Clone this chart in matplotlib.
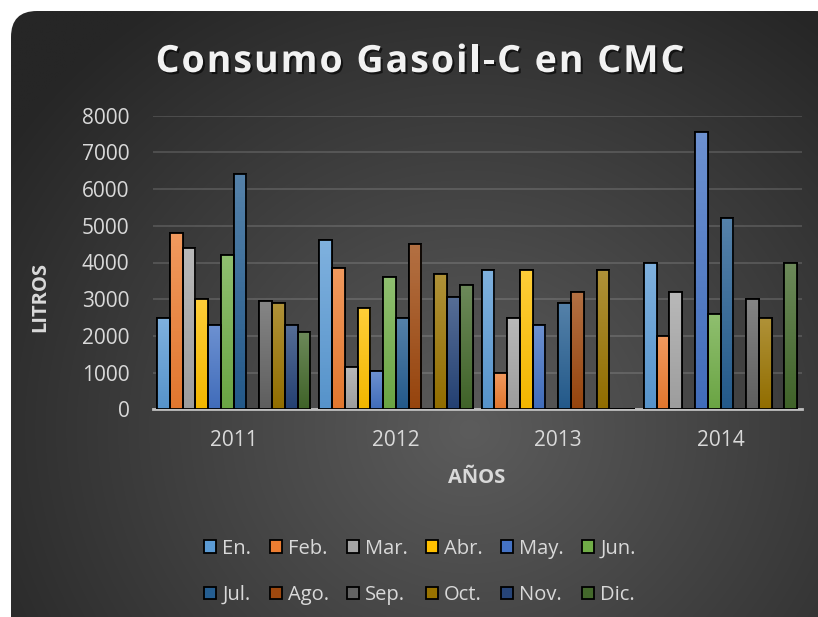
import numpy as np
import matplotlib
matplotlib.use('Agg')
from matplotlib import pyplot as plt
from matplotlib.patches import FancyBboxPatch
from matplotlib.colors import LinearSegmentedColormap, to_rgb
from matplotlib.font_manager import FontProperties, findfont
from matplotlib.ft2font import FT2Font, Kerning
import matplotlib.patheffects as pe

plt.rcParams['font.family'] = ['Open Sans', 'DejaVu Sans']

# data
years = ['2011', '2012', '2013', '2014']
months = ['En.', 'Feb.', 'Mar.', 'Abr.', 'May.', 'Jun.',
          'Jul.', 'Ago.', 'Sep.', 'Oct.', 'Nov.', 'Dic.']
en = [2500, 4600, 3800, 4000]
feb = [4800, 3850, 1000, 2000]
mar = [4400, 1150, 2500, 3200]
abr = [3000, 2750, 3800, 0]
may = [2300, 1050, 2300, 7550]
jun = [4200, 3600, 0, 2600]
jul = [6400, 2500, 2900, 5200]
ago = [0, 4500, 3200, 0]
sep = [2950, 0, 0, 3000]
octu = [2900, 3700, 3800, 2500]
nov = [2300, 3050, 0, 0]
dic = [2100, 3400, 0, 4000]
series = [en, feb, mar, abr, may, jun, jul, ago, sep, octu, nov, dic]
title_text = 'Consumo Gasoil-C en CMC'

colors = ['#5B9BD5', '#ED7D31', '#A5A5A5', '#FFC000', '#4472C4', '#70AD47',
          '#255E91', '#9E480E', '#636363', '#997300', '#264478', '#43682B']

W, H = 818, 617
fig = plt.figure(figsize=(W / 100, H / 100), dpi=100, facecolor='white')

# background: rounded dark panel with radial gradient
bg = fig.add_axes([0, 0, 1, 1], zorder=-10)
bg.set_xlim(0, W)
bg.set_ylim(H, 0)
bg.axis('off')
gx, gy = np.meshgrid(np.linspace(0, W, 400), np.linspace(0, H, 300))
d = np.sqrt(((gx - 470) / 560) ** 2 + ((gy - 430) / 520) ** 2)
d = np.clip(d, 0, 1)
c_in, c_out = np.array(to_rgb('#5c5c5c')), np.array(to_rgb('#262626'))
img = c_in[None, None, :] * (1 - d[..., None]) + c_out[None, None, :] * d[..., None]
panel = FancyBboxPatch((11, 11), 830, 640, boxstyle='round,pad=0,rounding_size=26',
                       facecolor='none', edgecolor='none')
bg.add_patch(panel)
im = bg.imshow(img, extent=[0, W, H, 0], aspect='auto', interpolation='bilinear')
im.set_clip_path(panel)

# plot area
ax = fig.add_axes([152.5 / W, 1 - 409.3 / H, 649.2 / W, 293.6 / H])
ax.set_facecolor('none')
x = np.arange(len(years))
w = 0.0787
offsets = (np.arange(12) - 5.5) * w

handles = []
for vals, col, off, lab in zip(series, colors, offsets, months):
    bars = ax.bar(x + off, vals, width=w, color=col, edgecolor='black',
                  linewidth=1.3, label=lab, zorder=2)
    handles.append(bars)
    base = np.array(to_rgb(col))
    light = base + (1 - base) * 0.22
    cm = LinearSegmentedColormap.from_list('g', [base * 0.95, light])
    grad = np.linspace(1, 0, 50).reshape(-1, 1)
    for r in bars:
        if r.get_height() <= 0:
            continue
        gi = ax.imshow(grad, cmap=cm, aspect='auto', zorder=2.1,
                       extent=[r.get_x(), r.get_x() + w, 0, r.get_height()])
        gi.set_clip_path(r)
    ax.bar(x + off, vals, width=w, facecolor='none', edgecolor='black',
           linewidth=1.3, zorder=2.2)

ax.set_xlim(-0.5, 3.5)
ax.set_ylim(0, 8000)
ax.set_yticks(np.arange(0, 8001, 1000))
ax.set_xticks(x)
ax.set_xticklabels(years)
ax.grid(axis='y', color='#d9d9d9', alpha=0.2, linewidth=1.2, zorder=0)
ax.set_axisbelow(True)
for s in ['top', 'right', 'left']:
    ax.spines[s].set_visible(False)
ax.spines['bottom'].set_color('#bfbfbf')
ax.spines['bottom'].set_linewidth(2)
ax.spines['bottom'].set_zorder(1)
ax.tick_params(axis='both', length=0, colors='#d9d9d9', labelsize=15)
ax.tick_params(axis='x', pad=15)
ax.tick_params(axis='y', pad=16.5)

ax.set_xlabel('AÑOS', fontsize=14.5, fontweight='bold', color='#d9d9d9', labelpad=12)
fig.text(40 / W, 1 - 297 / H, 'LITROS', rotation=90, fontsize=14.5,
         fontweight='bold', color='#d9d9d9', ha='center', va='center')

# title with letter spacing: place glyphs one by one
tsize = 27
fp = FontProperties(family='Open Sans', weight='bold', size=tsize)
ft = FT2Font(findfont(fp))
ft.set_size(tsize, 100)
track = 2.0  # extra px between letters
pos, cur, prev = [], 0.0, None
for ch in title_text:
    idx = ft.get_char_index(ord(ch))
    if prev is not None:
        cur += ft.get_kerning(prev, idx, Kerning.DEFAULT) / 64
    pos.append(cur)
    g = ft.load_char(ord(ch))
    cur += g.linearHoriAdvance / 65536 + track
    prev = idx
total = cur - track
x0 = 420 - total / 2
for ch, p in zip(title_text, pos):
    if ch == ' ':
        continue
    fig.text((x0 + p) / W, 1 - 72 / H, ch, fontproperties=fp, color='#f2f2f2',
             ha='left', va='baseline',
             path_effects=[pe.withSimplePatchShadow(offset=(1.5, -1.5),
                                                    shadow_rgbFace='black', alpha=0.6)])

# legend: row-wise order with 2 rows
order = [0, 6, 1, 7, 2, 8, 3, 9, 4, 10, 5, 11]
leg = fig.legend([handles[i] for i in order], [months[i] for i in order],
                 ncol=6, loc='center', bbox_to_anchor=(420 / W, 1 - 572 / H),
                 frameon=False, fontsize=14.5, labelcolor='#d9d9d9',
                 handlelength=0.6, handleheight=0.6, handletextpad=0.3,
                 columnspacing=0.9, labelspacing=1.3)

plt.savefig('out.png', dpi=100, facecolor='white')
